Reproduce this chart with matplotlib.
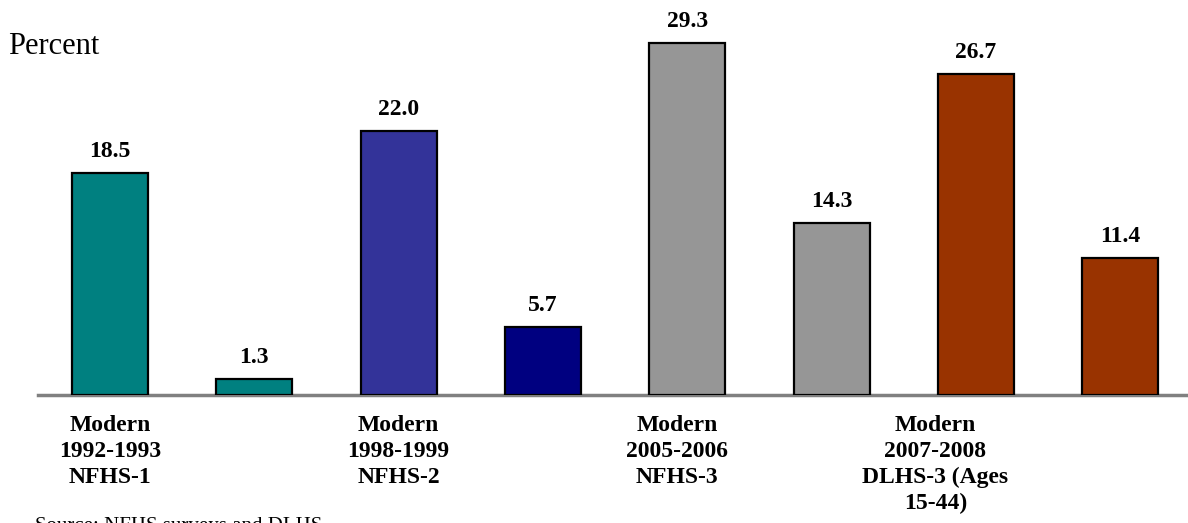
import matplotlib.pyplot as plt

# Contraceptive use by survey round (percent)
bar_values = [18.5, 1.3, 22.0, 5.7, 29.3, 14.3, 26.7, 11.4]
bar_colors = ['#008080', '#008080', '#333399', '#000080',
              '#969696', '#969696', '#993300', '#993300']
group_labels = ['Modern\n1992-1993\nNFHS-1',
                'Modern\n1998-1999\nNFHS-2',
                'Modern\n2005-2006\nNFHS-3',
                'Modern\n2007-2008\nDLHS-3 (Ages\n15-44)']
label_pos = [0, 2, 3.93, 5.72]

serif = ['Liberation Serif', 'DejaVu Serif']

fig = plt.figure(figsize=(11.88, 5.23), dpi=100)
ax = fig.add_axes([38 / 1188, 128 / 523, 1150 / 1188, 395 / 523])

x = list(range(len(bar_values)))
bars = ax.bar(x, bar_values, width=0.527, color=bar_colors,
              edgecolor='black', linewidth=1.6, zorder=3)

for rect, val in zip(bars, bar_values):
    ax.annotate(f'{val:.1f}', (rect.get_x() + rect.get_width() / 2, val),
                xytext=(0, 11.5), textcoords='offset points',
                ha='center', va='baseline', fontsize=17,
                fontweight='bold', family=serif)

ax.set_xlim(-0.499, 7.47)
ax.set_ylim(0, 32.9)

for pos, lab in zip(label_pos, group_labels):
    ax.text(pos, -1.7, lab, ha='center', va='top', fontsize=17,
            fontweight='bold', family=serif, linespacing=1.3)

# only the baseline is kept
for side in ['top', 'right', 'left']:
    ax.spines[side].set_visible(False)
ax.spines['bottom'].set_color('#808080')
ax.spines['bottom'].set_linewidth(2.5)
ax.set_xticks([])
ax.set_yticks([])

fig.text(8 / 1188, 1 - 54 / 523, 'Percent', fontsize=22,
         family=serif, va='baseline')
fig.text(35 / 1188, 1 - 517 / 523, 'Source: NFHS surveys and DLHS',
         fontsize=15, family=serif, va='top')

fig.savefig('out.png', dpi=100)
